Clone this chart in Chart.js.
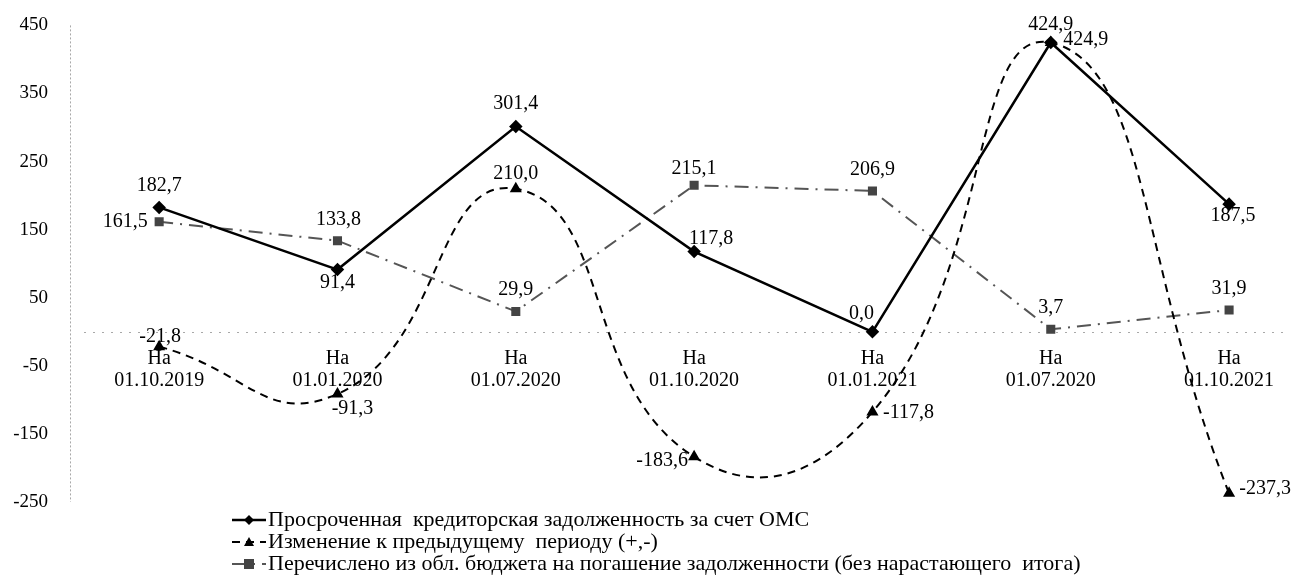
<!DOCTYPE html>
<html>
<head>
<meta charset="utf-8">
<script src="https://cdn.jsdelivr.net/npm/chart.js@4.4.0/dist/chart.umd.min.js"></script>
<style>
  body { margin: 0; background: #fff; }
  #wrap { width: 1299px; height: 581px; position: relative; }
</style>
</head>
<body>
<div id="wrap"><canvas id="myLinea"></canvas></div>
<script>
const dates = ["01.10.2019", "01.01.2020", "01.07.2020", "01.10.2020", "01.01.2021", "01.07.2020", "01.10.2021"];
const debtOMS = [182.7, 91.4, 301.4, 117.8, 0.0, 424.9, 187.5];
const changePrev = [-21.8, -91.3, 210.0, -183.6, -117.8, 424.9, -237.3];
const transferred = [161.5, 133.8, 29.9, 215.1, 206.9, 3.7, 31.9];
const yTicks = [-250, -150, -50, 50, 150, 250, 350, 450];
const seriesNames = [
  "Просроченная  кредиторская задолженность за счет ОМС",
  "Изменение к предыдущему  периоду (+,-)",
  "Перечислено из обл. бюджета на погашение задолженности (без нарастающего  итога)",
];

// label shifts (px) for the value labels, per point
const shift1 = [[0, -22], [0, 13], [0, -23], [17, -13], [-11, -18], [0, -18], [4, 12]];
const shift2 = [[1, -10], [15, 15], [0, -15], [-32, 4], [36, 1], [35, -3], [36, -5]];
const shift3 = [[-34, 0], [1, -21], [0, -22], [0, -17], [0, -21], [0, -22], [0, -21]];

const FONT = "'Liberation Serif', 'Times New Roman', serif";

const pts = (arr) => arr.map((v, i) => ({ x: i, y: v }));
const fmt = (v) => v.toFixed(1).replace(".", ",");

function marker(ctx, style, x, y, r, color) {
  ctx.save();
  ctx.fillStyle = color;
  ctx.beginPath();
  if (style === "rectRot") {
    ctx.moveTo(x, y - r); ctx.lineTo(x + r, y); ctx.lineTo(x, y + r); ctx.lineTo(x - r, y);
  } else if (style === "triangle") {
    ctx.moveTo(x, y - r); ctx.lineTo(x + r, y + r * 0.8); ctx.lineTo(x - r, y + r * 0.8);
  } else {
    ctx.rect(x - r, y - r, r * 2, r * 2);
  }
  ctx.closePath();
  ctx.fill();
  ctx.restore();
}

// dotted y axis line and zero line
const axisLines = {
  id: "axisLines",
  beforeDatasetsDraw(chart) {
    const { ctx, chartArea } = chart;
    const y0 = chart.scales.y.getPixelForValue(0);
    ctx.save();
    ctx.strokeStyle = "#a8a8a8";
    ctx.lineWidth = 1;
    ctx.setLineDash([2, 2]);
    ctx.beginPath();
    ctx.moveTo(chartArea.left + 0.5, chartArea.top);
    ctx.lineTo(chartArea.left + 0.5, chartArea.bottom);
    ctx.stroke();
    ctx.setLineDash([2, 7]);
    ctx.beginPath();
    ctx.moveTo(chartArea.left + 14, Math.round(y0) + 0.5);
    ctx.lineTo(chartArea.right - 8, Math.round(y0) + 0.5);
    ctx.stroke();
    ctx.restore();
  },
};

const valueLabels = {
  id: "valueLabels",
  afterDatasetsDraw(chart) {
    const ctx = chart.ctx;
    ctx.save();
    ctx.font = "20px " + FONT;
    ctx.fillStyle = "#000";
    ctx.textAlign = "center";
    ctx.textBaseline = "middle";
    chart.data.datasets.forEach((ds, di) => {
      chart.getDatasetMeta(di).data.forEach((p, i) => {
        const s = ds.shifts[i];
        ctx.fillText(fmt(ds.data[i].y), p.x + s[0], p.y + s[1]);
      });
    });
    ctx.restore();
  },
};

const bottomLegend = {
  id: "bottomLegend",
  afterDraw(chart) {
    const ctx = chart.ctx;
    const x0 = 232;
    const rows = [520, 542, 564];
    ctx.save();
    chart.data.datasets.forEach((ds, i) => {
      const y = rows[i];
      ctx.strokeStyle = ds.borderColor;
      ctx.lineWidth = ds.borderWidth;
      ctx.setLineDash(ds.borderDash || []);
      ctx.beginPath();
      ctx.moveTo(x0, y);
      ctx.lineTo(x0 + 34, y);
      ctx.stroke();
      ctx.setLineDash([]);
      marker(ctx, ds.pointStyle, x0 + 17, y, 5, ds.pointBackgroundColor);
      ctx.font = "22px " + FONT;
      ctx.fillStyle = "#000";
      ctx.textAlign = "left";
      ctx.textBaseline = "middle";
      ctx.fillText(ds.label, x0 + 36, y);
    });
    ctx.restore();
  },
};

const ctx1 = document.getElementById("myLinea").getContext("2d");

const myChart = new Chart(ctx1, {
  type: "line",
  data: {
    datasets: [
      {
        label: seriesNames[0],
        data: pts(debtOMS),
        shifts: shift1,
        borderColor: "#000",
        borderWidth: 2.5,
        pointStyle: "rectRot",
        pointRadius: 5,
        pointBackgroundColor: "#000",
        pointBorderColor: "#000",
        tension: 0,
      },
      {
        label: seriesNames[1],
        data: pts(changePrev),
        shifts: shift2,
        borderColor: "#000",
        borderWidth: 2,
        borderDash: [8, 6],
        pointStyle: "triangle",
        pointRadius: 5,
        pointBackgroundColor: "#000",
        pointBorderColor: "#000",
        tension: 0.5,
      },
      {
        label: seriesNames[2],
        data: pts(transferred),
        shifts: shift3,
        borderColor: "#555",
        borderWidth: 2,
        borderDash: [14, 7, 2, 7],
        pointStyle: "rect",
        pointRadius: 5,
        pointBackgroundColor: "#444",
        pointBorderColor: "#444",
        tension: 0,
      },
    ],
  },
  options: {
    responsive: true,
    maintainAspectRatio: false,
    animation: false,
    clip: false,
    layout: { padding: { top: 17, bottom: 79, left: 0, right: 0 } },
    plugins: {
      legend: { display: false },
      tooltip: { enabled: false },
    },
    scales: {
      x: {
        type: "linear",
        min: -0.5,
        max: 6.35,
        position: { y: 0 },
        grid: { display: false },
        border: { display: false },
        afterBuildTicks: (axis) => {
          axis.ticks = dates.map((_, i) => ({ value: i }));
        },
        ticks: {
          autoSkip: false,
          maxRotation: 0,
          padding: 8,
          color: "#000",
          font: { family: FONT, size: 20, lineHeight: 1.1 },
          callback: (v) => ["На", dates[v]],
        },
      },
      y: {
        position: "left",
        min: -250,
        max: 450,
        grid: { display: false },
        border: { display: false },
        afterBuildTicks: (axis) => {
          axis.ticks = yTicks.map((v) => ({ value: v }));
        },
        afterFit: (scale) => {
          scale.width = 70;
        },
        ticks: {
          padding: 14,
          color: "#000",
          font: { family: FONT, size: 19 },
        },
      },
    },
  },
  plugins: [axisLines, valueLabels, bottomLegend],
});
</script>
</body>
</html>
